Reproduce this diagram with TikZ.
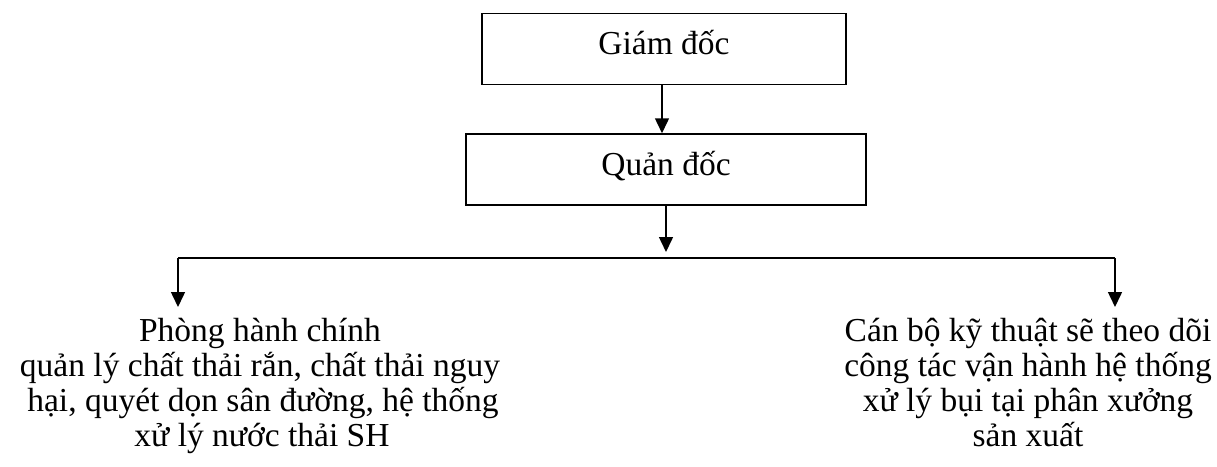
\documentclass[tikz,border=0pt]{standalone}
\usepackage{fontspec}
\setmainfont{Liberation Serif}
\usetikzlibrary{arrows.meta}
\begin{document}
\begin{tikzpicture}[x=1pt,y=-1pt,
  box/.style={draw,line width=1.5pt,minimum width=#1,minimum height=71pt,inner sep=0pt,
    text height=11pt,text depth=0pt,font=\fontsize{33.5}{35}\selectfont},
  conn/.style={line width=1.5pt},
  arr/.style={line width=1.5pt,-{Triangle[length=15pt,width=14pt]}},
  txt/.style={font=\fontsize{33.5}{35}\selectfont,inner sep=0pt,anchor=base}]
\useasboundingbox (0,0) rectangle (1217,466);
\node[box=364pt] (gd) at (664,49) {Giám đốc};
\node[box=400pt] (qd) at (666,169.5) {Quản đốc};
\coordinate (qdt) at (666,252);
\coordinate (hl) at (178,258);
\coordinate (hr) at (1115,258);
\coordinate (tl) at (178,307);
\coordinate (tr) at (1115,307);
\draw[arr] (gd.south -| 662,0) -- (qd.north -| 662,0);
\draw[arr] (qd.south -| qdt) -- (qdt);
\draw[conn] (hl) -- (hr);
\draw[arr] (hl) -- (tl);
\draw[arr] (hr) -- (tr);
\node[txt] (l1) at (260,341) {Phòng hành chính};
\node[txt] (l2) at (260,376) {quản lý chất thải rắn, chất thải nguy};
\node[txt] (l3) at (263,411) {hại, quyét dọn sân đường, hệ thống};
\node[txt] (l4) at (262,446) {xử lý nước thải SH};
\node[txt] (r1) at (1028,341) {Cán bộ kỹ thuật sẽ theo dõi};
\node[txt] (r2) at (1028,376) {công tác vận hành hệ thống};
\node[txt] (r3) at (1028,411) {xử lý bụi tại phân xưởng};
\node[txt] (r4) at (1028,446) {sản xuất};
\end{tikzpicture}
\end{document}
